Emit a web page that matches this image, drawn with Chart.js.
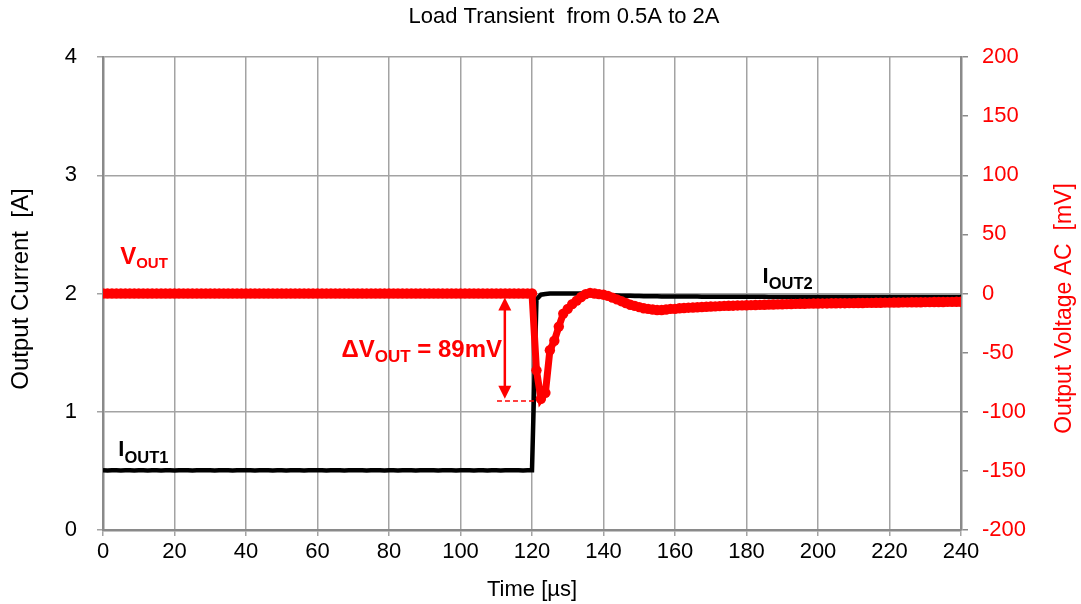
<!DOCTYPE html>
<html><head><meta charset="utf-8">
<script src="https://cdn.jsdelivr.net/npm/chart.js@4.4.0/dist/chart.umd.min.js"></script>
<style>html,body{margin:0;padding:0;background:#fff;}#wrap{width:1081px;height:604px;}</style>
</head><body><div id="wrap"><canvas id="c" width="1081" height="604"></canvas></div>
<script>
// ---- data ----
const chartTitle = 'Load Transient  from 0.5A to 2A';
const xTitle = 'Time [µs]';
const yLeftTitle = 'Output Current  [A]';
const yRightTitle = 'Output Voltage AC  [mV]';

const timeUs = [
  0,1.25,2.5,3.75,5,6.25,7.5,8.75,
  10,11.25,12.5,13.75,15,16.25,17.5,18.75,
  20,21.25,22.5,23.75,25,26.25,27.5,28.75,
  30,31.25,32.5,33.75,35,36.25,37.5,38.75,
  40,41.25,42.5,43.75,45,46.25,47.5,48.75,
  50,51.25,52.5,53.75,55,56.25,57.5,58.75,
  60,61.25,62.5,63.75,65,66.25,67.5,68.75,
  70,71.25,72.5,73.75,75,76.25,77.5,78.75,
  80,81.25,82.5,83.75,85,86.25,87.5,88.75,
  90,91.25,92.5,93.75,95,96.25,97.5,98.75,
  100,101.25,102.5,103.75,105,106.25,107.5,108.75,
  110,111.25,112.5,113.75,115,116.25,117.5,118.75,
  120,121.25,122.5,123.75,125,126.25,127.5,128.75,
  130,131.25,132.5,133.75,135,136.25,137.5,138.75,
  140,141.25,142.5,143.75,145,146.25,147.5,148.75,
  150,151.25,152.5,153.75,155,156.25,157.5,158.75,
  160,161.25,162.5,163.75,165,166.25,167.5,168.75,
  170,171.25,172.5,173.75,175,176.25,177.5,178.75,
  180,181.25,182.5,183.75,185,186.25,187.5,188.75,
  190,191.25,192.5,193.75,195,196.25,197.5,198.75,
  200,201.25,202.5,203.75,205,206.25,207.5,208.75,
  210,211.25,212.5,213.75,215,216.25,217.5,218.75,
  220,221.25,222.5,223.75,225,226.25,227.5,228.75,
  230,231.25,232.5,233.75,235,236.25,237.5,238.75,
  240
];

const voutAcMv = [
  0,0,0,0,0,0,0,0,
  0,0,0,0,0,0,0,0,
  0,0,0,0,0,0,0,0,
  0,0,0,0,0,0,0,0,
  0,0,0,0,0,0,0,0,
  0,0,0,0,0,0,0,0,
  0,0,0,0,0,0,0,0,
  0,0,0,0,0,0,0,0,
  0,0,0,0,0,0,0,0,
  0,0,0,0,0,0,0,0,
  0,0,0,0,0,0,0,0,
  0,0,0,0,0,0,0,0,
  0,-65,-89,-84,-48,-40,-28,-17,
  -13,-9,-6,-3,-0.5,0.5,0,-0.5,
  -1,-2,-3.5,-5,-6.5,-8,-9.5,-10.5,
  -11.5,-12.5,-13,-13.5,-14,-14,-13.5,-13,
  -13,-12.5,-12.3,-12,-11.8,-11.6,-11.4,-11.2,
  -11,-10.9,-10.7,-10.5,-10.4,-10.3,-10.1,-10,
  -9.9,-9.8,-9.7,-9.6,-9.5,-9.4,-9.3,-9.2,
  -9.1,-9,-8.9,-8.8,-8.7,-8.7,-8.6,-8.5,
  -8.5,-8.4,-8.4,-8.3,-8.3,-8.2,-8.2,-8.1,
  -8.1,-8,-8,-7.9,-7.9,-7.8,-7.8,-7.7,
  -7.7,-7.6,-7.6,-7.5,-7.5,-7.4,-7.4,-7.4,
  -7.3,-7.3,-7.2,-7.2,-7.2,-7.1,-7.1,-7,
  -7
];

const ioutA = [
  0.505,0.503,0.506,0.505,0.504,0.506,0.505,0.503,
  0.505,0.506,0.504,0.505,0.505,0.503,0.506,0.505,
  0.504,0.505,0.506,0.505,0.503,0.505,0.505,0.506,
  0.505,0.504,0.505,0.506,0.505,0.503,0.505,0.505,
  0.506,0.505,0.504,0.505,0.505,0.506,0.503,0.505,
  0.505,0.504,0.506,0.505,0.505,0.503,0.505,0.506,
  0.505,0.505,0.504,0.505,0.506,0.505,0.503,0.505,
  0.505,0.506,0.505,0.504,0.505,0.505,0.506,0.503,
  0.505,0.505,0.504,0.506,0.505,0.505,0.503,0.505,
  0.506,0.505,0.505,0.504,0.505,0.506,0.505,0.503,
  0.505,0.505,0.506,0.504,0.505,0.505,0.503,0.506,
  0.505,0.504,0.505,0.505,0.506,0.505,0.503,0.505,
  0.505,1.95,1.99,1.995,2.0,2.0,2.0,2.0,
  2.0,2.0,2.0,2.0,1.998,1.997,1.995,1.993,
  1.99,1.988,1.986,1.984,1.982,1.98,1.98,1.978,
  1.978,1.977,1.977,1.976,1.976,1.975,1.975,1.975,
  1.975,1.975,1.974,1.974,1.974,1.974,1.973,1.973,
  1.973,1.973,1.973,1.973,1.972,1.972,1.972,1.972,
  1.972,1.972,1.972,1.972,1.972,1.971,1.971,1.971,
  1.971,1.971,1.971,1.971,1.971,1.971,1.971,1.97,
  1.97,1.97,1.97,1.97,1.97,1.97,1.97,1.97,
  1.97,1.97,1.97,1.97,1.97,1.97,1.97,1.97,
  1.97,1.97,1.97,1.97,1.97,1.97,1.97,1.97,
  1.97,1.97,1.97,1.97,1.97,1.97,1.97,1.97,
  1.97
];

const deltaVoutMv = 89;          // annotated undershoot
const deltaLabel = '= 89mV';

// ---- chart ----
const FONT = '"Liberation Sans", Arial, Helvetica, sans-serif';
Chart.defaults.font.family = FONT;
Chart.defaults.color = '#000';

const GRID = '#a3a3a3';
const AXIS = '#8a8a8a';

const annot = {
  id: 'annot',
  afterDatasetsDraw(chart) {
    const {ctx, chartArea: ca} = chart;
    const x = chart.scales.x, y = chart.scales.y, y2 = chart.scales.y2;
    ctx.save();
    ctx.textAlign = 'left';
    ctx.textBaseline = 'alphabetic';
    function subText(main, sub, px, py, ms, ss, drop, color) {
      ctx.fillStyle = color;
      ctx.font = 'bold ' + ms + 'px ' + FONT;
      ctx.fillText(main, px, py);
      const w = ctx.measureText(main).width;
      ctx.font = 'bold ' + ss + 'px ' + FONT;
      ctx.fillText(sub, px + w, py + drop);
      return px + w + ctx.measureText(sub).width;
    }
    // V_OUT label
    subText('V', 'OUT', x.getPixelForValue(4.8), y2.getPixelForValue(25), 24, 15, 4, '#ff0000');
    // I_OUT1
    subText('I', 'OUT1', x.getPixelForValue(4.3), y.getPixelForValue(0.63), 22, 16.5, 7, '#000');
    // I_OUT2
    subText('I', 'OUT2', x.getPixelForValue(184.5), y.getPixelForValue(2.085), 22, 16.5, 6, '#000');
    // Delta V label
    const endX = subText('\u0394V', 'OUT', x.getPixelForValue(66.7), y2.getPixelForValue(-53.4), 24, 17, 5, '#ff0000');
    ctx.font = 'bold 24px ' + FONT;
    ctx.fillText(' ' + deltaLabel, endX, y2.getPixelForValue(-53.4));

    // double arrow
    const ax = x.getPixelForValue(112.4);
    const ya = y2.getPixelForValue(0) + 4;
    const yb = y2.getPixelForValue(-deltaVoutMv);
    ctx.strokeStyle = '#ff0000';
    ctx.fillStyle = '#ff0000';
    ctx.lineWidth = 2.5;
    ctx.beginPath(); ctx.moveTo(ax, ya + 10); ctx.lineTo(ax, yb - 10); ctx.stroke();
    ctx.beginPath(); ctx.moveTo(ax, ya); ctx.lineTo(ax - 6.5, ya + 13); ctx.lineTo(ax + 6.5, ya + 13); ctx.closePath(); ctx.fill();
    ctx.beginPath(); ctx.moveTo(ax, yb); ctx.lineTo(ax - 6.5, yb - 13); ctx.lineTo(ax + 6.5, yb - 13); ctx.closePath(); ctx.fill();
    // dashed level line
    ctx.setLineDash([5, 3]);
    ctx.lineWidth = 1.5;
    const yd = y2.getPixelForValue(-91);
    ctx.beginPath(); ctx.moveTo(x.getPixelForValue(110.2), yd); ctx.lineTo(x.getPixelForValue(122.5), yd); ctx.stroke();
    ctx.setLineDash([]);

    // chart title (offset to the right as in the reference)
    ctx.textAlign = 'center';
    ctx.textBaseline = 'middle';
    ctx.fillStyle = '#000';
    ctx.font = '22px ' + FONT;
    ctx.fillText(chartTitle, (ca.left + ca.right) / 2 + 32, 17);

    // left axis title
    ctx.save();
    ctx.translate(21, (ca.top + ca.bottom) / 2 - 4.5);
    ctx.rotate(-Math.PI / 2);
    ctx.font = '24px ' + FONT;
    ctx.fillText(yLeftTitle, 0, 0);
    ctx.restore();

    // right axis title (reads bottom-to-top)
    ctx.translate(chart.width - 16, (ca.top + ca.bottom) / 2 + 15);
    ctx.rotate(-Math.PI / 2);
    ctx.font = '23px ' + FONT;
    ctx.fillStyle = '#ff0000';
    ctx.fillText(yRightTitle, 0, 0);
    ctx.restore();
  }
};

new Chart(document.getElementById('c'), {
  type: 'line',
  data: {
    datasets: [
      {
        label: 'VOUT',
        yAxisID: 'y2',
        data: timeUs.map((t, i) => ({x: t, y: voutAcMv[i]})),
        borderColor: '#ff0000',
        backgroundColor: '#ff0000',
        borderWidth: 7,
        pointRadius: 5.2,
        pointBorderWidth: 0,
        pointBackgroundColor: '#ff0000',
        tension: 0
      },
      {
        label: 'IOUT',
        yAxisID: 'y',
        data: timeUs.map((t, i) => ({x: t, y: ioutA[i]})),
        borderColor: '#000',
        borderWidth: 4.5,
        pointRadius: 0,
        tension: 0
      }
    ]
  },
  options: {
    responsive: false,
    animation: false,
    layout: {padding: {top: 57}},
    plugins: {
      legend: {display: false},
      tooltip: {enabled: false},
      title: {display: false}
    },
    scales: {
      x: {
        type: 'linear', min: 0, max: 240,
        ticks: {stepSize: 20, font: {size: 22}, color: '#000', padding: 3, maxRotation: 0},
        grid: {color: GRID, lineWidth: 1.5, tickLength: 6},
        border: {color: AXIS, width: 2.5},
        title: {display: true, text: xTitle, font: {size: 22}, color: '#000', padding: {top: 0, bottom: 1}},
        afterFit(s) { s.height = 74; }
      },
      y: {
        position: 'left', min: 0, max: 4,
        ticks: {stepSize: 1, font: {size: 22}, color: '#000', padding: 20},
        grid: {color: GRID, lineWidth: 1.5, tickLength: 6},
        border: {color: AXIS, width: 2.5},
        afterFit(s) { s.width = 103; }
      },
      y2: {
        position: 'right', min: -200, max: 200,
        ticks: {stepSize: 50, font: {size: 22}, color: '#ff0000', padding: 14},
        grid: {drawOnChartArea: false, color: AXIS, lineWidth: 1.5, tickLength: 7},
        border: {color: AXIS, width: 2.5},
        afterFit(s) { s.width = 120; }
      }
    }
  },
  plugins: [annot]
});
</script>
</body></html>
